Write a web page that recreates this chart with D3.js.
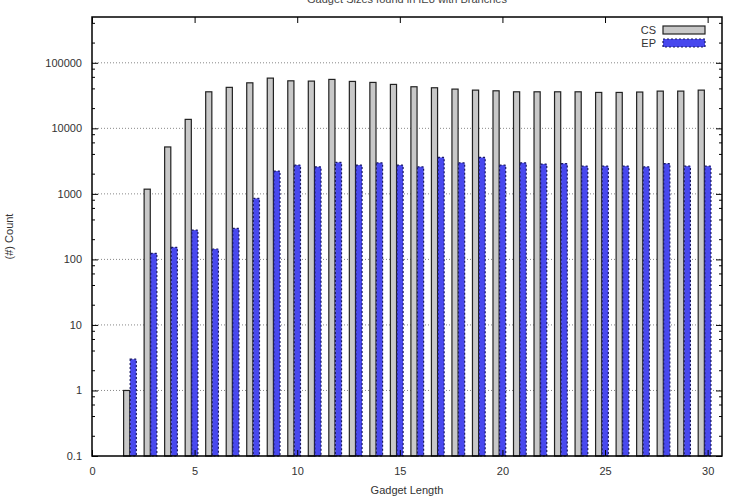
<!DOCTYPE html>
<html><head><meta charset="utf-8">
<script src="https://cdn.jsdelivr.net/npm/d3@7"></script>
<style>body{margin:0;background:#fff}text{font-family:"Liberation Sans",Arial,sans-serif}</style>
</head><body><div id="chart"></div>
<script>
const lengths = [2,3,4,5,6,7,8,9,10,11,12,13,14,15,16,17,18,19,20,21,22,23,24,25,26,27,28,29,30];
const csCounts = [1,1180,5200,13700,36100,42200,49500,58400,53100,52600,55800,52000,50200,46800,43100,41600,39700,38300,37400,36100,36100,36100,36100,35300,35300,35800,37000,37000,38300];
const epCounts = [3,124,153,280,144,297,853,2230,2750,2590,3020,2750,2980,2750,2590,3600,2980,3600,2750,2980,2850,2900,2650,2650,2650,2590,2900,2650,2650];
const seriesNames = ["CS","EP"];
const yTickValues = [0.1,1,10,100,1000,10000,100000];
const xTickValues = [0,5,10,15,20,25,30];
const titleText = "Gadget Sizes found in IE8 with Branches";
const xLabel = "Gadget Length";
const yLabel = "(#) Count";

const W = 730, H = 498;
const m = {left:92, right:8, top:17, bottom:42};
const svg = d3.select("#chart").append("svg").attr("width",W).attr("height",H);
const x = d3.scaleLinear().domain([0,30.7]).range([m.left, W-m.right]);
const y = d3.scaleLog().domain([0.1,500000]).range([H-m.bottom, m.top]);

// grid
const g = svg.append("g");
g.selectAll("line.grid").data(yTickValues.slice(1)).join("line")
  .attr("x1",m.left).attr("x2",W-m.right)
  .attr("y1",d=>y(d)).attr("y2",d=>y(d))
  .attr("stroke","#888").attr("stroke-width",1).attr("stroke-dasharray","1,2");

const bw = x(0.3)-x(0);
const csData = lengths.map((l,i)=>({l, v:csCounts[i]}));
const epData = lengths.map((l,i)=>({l, v:epCounts[i]}));
svg.append("g").selectAll("rect").data(csData).join("rect")
  .attr("x",d=>x(d.l-0.46)).attr("width",bw)
  .attr("y",d=>y(d.v)).attr("height",d=>y(0.1)-y(d.v))
  .attr("fill","#c8c8c8").attr("stroke","#222").attr("stroke-width",1.2);
svg.append("g").selectAll("rect").data(epData).join("rect")
  .attr("x",d=>x(d.l-0.14)).attr("width",bw)
  .attr("y",d=>y(d.v)).attr("height",d=>y(0.1)-y(d.v))
  .attr("fill","#4848ee").attr("stroke","#1a1a60").attr("stroke-width",1.2).attr("stroke-dasharray","2,2");

// axes
const axL = d3.axisLeft(y).tickValues(yTickValues).tickFormat(d=>String(d)).tickSizeInner(-6).tickSizeOuter(0).tickPadding(10);
svg.append("g").attr("transform",`translate(${m.left},0)`).call(axL);
const axB = d3.axisBottom(x).tickValues(xTickValues).tickFormat(d3.format("d")).tickSizeInner(-6).tickSizeOuter(0).tickPadding(11);
svg.append("g").attr("transform",`translate(0,${H-m.bottom})`).call(axB);
const axR = d3.axisRight(y).tickValues(yTickValues).tickFormat("").tickSizeInner(-6).tickSizeOuter(0);
svg.append("g").attr("transform",`translate(${W-m.right},0)`).call(axR);
const axT = d3.axisTop(x).tickValues(xTickValues).tickFormat("").tickSizeInner(-6).tickSizeOuter(0);
svg.append("g").attr("transform",`translate(0,${m.top})`).call(axT);
// minor ticks
const minors = [];
for (let e=-1;e<6;e++) for (const k of [2,4,6,8]) { const v=k*Math.pow(10,e); if (v<500000) minors.push(v); }
svg.append("g").selectAll("line").data(minors).join("line")
  .attr("x1",m.left).attr("x2",m.left+3).attr("y1",d=>y(d)).attr("y2",d=>y(d)).attr("stroke","#000");
svg.append("g").selectAll("line").data(minors).join("line")
  .attr("x1",W-m.right).attr("x2",W-m.right-3).attr("y1",d=>y(d)).attr("y2",d=>y(d)).attr("stroke","#000");
svg.selectAll(".domain").remove();
svg.selectAll(".tick line").attr("stroke","#000");
svg.selectAll(".tick text").attr("font-size",11).attr("fill","#333").attr("font-family","Liberation Sans, Arial, sans-serif");
svg.append("rect").attr("x",m.left).attr("y",m.top).attr("width",W-m.right-m.left).attr("height",H-m.bottom-m.top)
  .attr("fill","none").attr("stroke","#000").attr("stroke-width",1.5);

// labels
svg.append("text").attr("x",(m.left+W-m.right)/2).attr("y",3).attr("text-anchor","middle")
  .attr("font-size",11).attr("fill","#444").text(titleText);
svg.append("text").attr("x",(m.left+W-m.right)/2).attr("y",494).attr("text-anchor","middle")
  .attr("font-size",11).attr("fill","#333").text(xLabel);
svg.append("text").attr("transform",`translate(13,${(m.top+H-m.bottom)/2}) rotate(-90)`).attr("text-anchor","middle")
  .attr("font-size",11).attr("fill","#333").text(yLabel);

// legend
const leg = svg.append("g");
seriesNames.forEach((s,i)=>{
  const yy = 30 + i*13;
  leg.append("text").attr("x",656).attr("y",yy+4).attr("text-anchor","end").attr("font-size",11).attr("fill","#333").text(s);
  leg.append("rect").attr("x",663).attr("y",yy-4).attr("width",42).attr("height",8)
    .attr("fill", i===0?"#c8c8c8":"#4848ee").attr("stroke", i===0?"#222":"#1a1a60")
    .attr("stroke-width",1.2).attr("stroke-dasharray", i===0?null:"2,2");
});
</script></body></html>
